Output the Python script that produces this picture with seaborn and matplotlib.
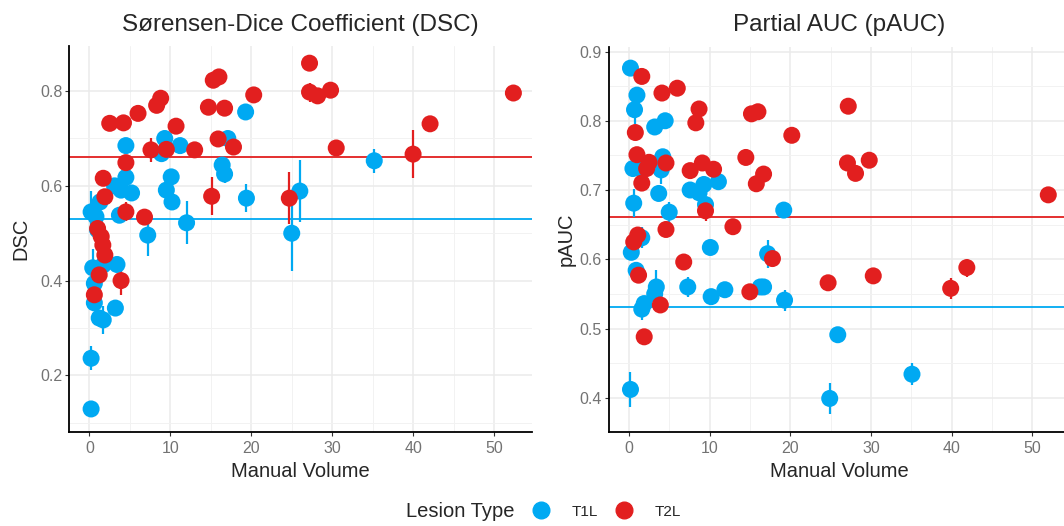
import matplotlib
matplotlib.use('Agg')
import matplotlib.pyplot as plt
from matplotlib.lines import Line2D
from matplotlib.ticker import MultipleLocator
import seaborn as sns
import pandas as pd

# -------------------------------
# DATA
# -------------------------------

lesion_types = ['T1L', 'T2L']
palette = {'T1L': '#00A9F2', 'T2L': '#E21F1F'}

# DSC panel
dsc_t1_vol = [0.2, 0.8, 1.3, 1.0, 0.4, 1.7, 3.4, 0.6, 0.6, 1.2, 1.7, 3.2, 0.2, 0.2,
              3.1, 3.9, 4.5, 5.2, 3.7, 4.5, 7.2, 8.9, 9.3, 10.1, 9.5, 10.2, 11.2,
              12.0, 16.4, 16.7, 17.1, 19.3, 19.4, 25.0, 26.0, 35.2]
dsc_t1_val = [0.545, 0.535, 0.566, 0.507, 0.427, 0.433, 0.434, 0.394, 0.353, 0.321,
              0.317, 0.342, 0.236, 0.129, 0.600, 0.591, 0.618, 0.585, 0.538, 0.685,
              0.496, 0.668, 0.700, 0.619, 0.591, 0.566, 0.685, 0.522, 0.644, 0.625,
              0.700, 0.756, 0.574, 0.500, 0.589, 0.653]
dsc_t1_err = [0.045, 0.02, 0.02, 0.02, 0.04, 0.02, 0.015, 0.02, 0.015, 0.015,
              0.03, 0.015, 0.025, 0.005, 0.01, 0.01, 0.01, 0.01, 0.015, 0.005,
              0.045, 0.01, 0.01, 0.01, 0.01, 0.015, 0.01, 0.045, 0.01, 0.02,
              0.01, 0.005, 0.03, 0.08, 0.065, 0.025]

dsc_t2_vol = [0.6, 1.2, 3.9, 1.45, 1.65, 1.9, 1.0, 1.9, 1.7, 4.5, 6.8, 4.5, 2.5, 4.2,
              6.0, 8.3, 8.8, 10.7, 7.6, 9.5, 13.0, 14.7, 15.3, 16.0, 16.7, 15.9,
              17.8, 20.3, 15.1, 24.7, 27.2, 27.2, 28.2, 29.8, 30.5, 40.0, 42.1, 52.4]
dsc_t2_val = [0.370, 0.412, 0.400, 0.493, 0.475, 0.454, 0.510, 0.577, 0.616, 0.545,
              0.534, 0.649, 0.732, 0.733, 0.753, 0.770, 0.785, 0.726, 0.676, 0.677,
              0.676, 0.766, 0.823, 0.830, 0.764, 0.699, 0.682, 0.792, 0.578, 0.574,
              0.859, 0.798, 0.790, 0.802, 0.680, 0.667, 0.731, 0.796]
dsc_t2_err = [0.01, 0.05, 0.03, 0.02, 0.02, 0.02, 0.02, 0.01, 0.01, 0.02,
              0.01, 0.015, 0.005, 0.005, 0.005, 0.01, 0.01, 0.005, 0.025, 0.01,
              0.005, 0.005, 0.005, 0.005, 0.005, 0.015, 0.005, 0.005, 0.04, 0.055,
              0.005, 0.02, 0.005, 0.005, 0.015, 0.05, 0.005, 0.01]

# pAUC panel
pauc_t1_vol = [0.2, 1.0, 0.7, 3.2, 4.5, 0.5, 1.4, 4.2, 4.0, 3.7, 0.6, 5.0, 7.6, 8.7,
               9.3, 11.1, 9.5, 10.1, 1.6, 19.2, 0.3, 0.9, 1.6, 1.9, 3.4, 3.2, 7.3,
               10.2, 11.9, 16.3, 16.7, 17.2, 19.3, 0.2, 25.9, 24.9, 35.1]
pauc_t1_val = [0.876, 0.837, 0.816, 0.791, 0.800, 0.731, 0.731, 0.748, 0.729, 0.695,
               0.681, 0.668, 0.700, 0.696, 0.708, 0.712, 0.679, 0.617, 0.631, 0.671,
               0.610, 0.584, 0.528, 0.536, 0.560, 0.550, 0.560, 0.546, 0.556, 0.560,
               0.560, 0.608, 0.541, 0.412, 0.491, 0.399, 0.434]
pauc_t1_err = [0.005, 0.005, 0.02, 0.005, 0.005, 0.005, 0.005, 0.01, 0.02, 0.005,
               0.02, 0.015, 0.005, 0.005, 0.005, 0.005, 0.01, 0.005, 0.015, 0.005,
               0.01, 0.005, 0.015, 0.01, 0.025, 0.01, 0.015, 0.005, 0.005, 0.005,
               0.005, 0.02, 0.015, 0.025, 0.005, 0.022, 0.016]

pauc_t2_vol = [1.6, 4.1, 6.0, 8.7, 8.3, 0.8, 1.0, 2.5, 2.2, 4.6, 1.6, 7.6, 9.1, 10.5,
               9.5, 4.6, 12.9, 0.6, 1.1, 6.8, 1.2, 1.9, 3.9, 15.0, 17.8, 14.5, 15.2,
               16.0, 15.8, 16.7, 20.2, 27.2, 27.1, 28.1, 29.8, 52.0, 24.7, 30.3,
               39.9, 41.9]
pauc_t2_val = [0.864, 0.840, 0.847, 0.817, 0.797, 0.783, 0.751, 0.740, 0.731, 0.739,
               0.710, 0.728, 0.739, 0.730, 0.670, 0.643, 0.647, 0.625, 0.635, 0.596,
               0.577, 0.488, 0.534, 0.553, 0.601, 0.747, 0.810, 0.813, 0.709, 0.723,
               0.779, 0.821, 0.739, 0.724, 0.743, 0.693, 0.566, 0.576, 0.558, 0.588]
pauc_t2_err = [0.005, 0.005, 0.005, 0.005, 0.005, 0.005, 0.005, 0.005, 0.005, 0.005,
               0.005, 0.005, 0.005, 0.005, 0.015, 0.005, 0.005, 0.005, 0.005, 0.005,
               0.005, 0.005, 0.005, 0.005, 0.005, 0.005, 0.005, 0.005, 0.01, 0.01,
               0.005, 0.005, 0.01, 0.005, 0.01, 0.005, 0.005, 0.005, 0.015, 0.013]

# reference lines (per lesion type)
dsc_hlines = {'T1L': 0.530, 'T2L': 0.660}
pauc_hlines = {'T1L': 0.531, 'T2L': 0.661}


def make_frame(t1_vol, t1_val, t1_err, t2_vol, t2_val, t2_err):
    t1 = pd.DataFrame({'volume': t1_vol, 'value': t1_val, 'err': t1_err, 'lesion': 'T1L'})
    t2 = pd.DataFrame({'volume': t2_vol, 'value': t2_val, 'err': t2_err, 'lesion': 'T2L'})
    return pd.concat([t1, t2], ignore_index=True)


dsc_df = make_frame(dsc_t1_vol, dsc_t1_val, dsc_t1_err, dsc_t2_vol, dsc_t2_val, dsc_t2_err)
pauc_df = make_frame(pauc_t1_vol, pauc_t1_val, pauc_t1_err, pauc_t2_vol, pauc_t2_val, pauc_t2_err)

# -------------------------------
# STYLE
# -------------------------------

sns.set_theme(style='white')
plt.rcParams['font.family'] = ['Liberation Sans', 'DejaVu Sans']

fig = plt.figure(figsize=(10.64, 5.26), dpi=100)
ax1 = fig.add_axes([0.0651, 0.1793, 0.4349, 0.7330])
ax2 = fig.add_axes([0.5721, 0.1793, 0.4336, 0.7320])


def draw_panel(ax, df, hlines, title, ylabel, ylim, ymajor, ylabelpad):
    for lt in lesion_types:
        ax.axhline(hlines[lt], color=palette[lt], lw=1.3, zorder=2)
    for lt in lesion_types:
        sub = df[df['lesion'] == lt]
        ax.errorbar(sub['volume'], sub['value'], yerr=sub['err'], fmt='none',
                    ecolor=palette[lt], elinewidth=1.6, capsize=0, zorder=3)
    sns.scatterplot(data=df, x='volume', y='value', hue='lesion', palette=palette,
                    s=150, edgecolor='none', linewidth=0, legend=False,
                    ax=ax, zorder=4)

    ax.set_xlim(-2.5, 54.7)
    ax.set_ylim(*ylim)
    ax.xaxis.set_major_locator(MultipleLocator(10))
    ax.xaxis.set_minor_locator(MultipleLocator(5))
    ax.yaxis.set_major_locator(MultipleLocator(ymajor))
    ax.yaxis.set_minor_locator(MultipleLocator(ymajor / 2))
    ax.grid(which='major', color='#EBEBEB', lw=1.1, zorder=0)
    ax.grid(which='minor', color='#F2F2F2', lw=0.7, zorder=0)
    ax.set_axisbelow(True)

    for side in ['top', 'right']:
        ax.spines[side].set_visible(False)
    for side in ['left', 'bottom']:
        ax.spines[side].set_color('black')
        ax.spines[side].set_linewidth(1.3)

    ax.tick_params(which='major', length=3, width=0.8, color='#333333',
                   labelsize=11.5, labelcolor='#737373', pad=2,
                   left=True, bottom=True)
    ax.tick_params(axis='x', which='major', pad=4)
    ax.tick_params(which='minor', length=0)

    ax.set_title(title, fontsize=17.5, pad=11)
    ax.set_xlabel('Manual Volume', fontsize=14.5, labelpad=4)
    ax.set_ylabel(ylabel, fontsize=14.5, labelpad=ylabelpad)


draw_panel(ax1, dsc_df, dsc_hlines, 'Sørensen-Dice Coefficient (DSC)', 'DSC',
           (0.081, 0.895), 0.2, 7)
draw_panel(ax2, pauc_df, pauc_hlines, 'Partial AUC (pAUC)', 'pAUC',
           (0.351, 0.907), 0.1, 3)
ax2.set_yticks([0.4, 0.5, 0.6, 0.7, 0.8, 0.9])
ax2.set_ylim(0.351, 0.907)

# -------------------------------
# LEGEND
# -------------------------------

fig.text(0.382, 0.027, 'Lesion Type', fontsize=14.5, ha='left', va='center')
handles = [Line2D([0], [0], marker='o', color=palette[lt], linestyle='none',
                  markersize=12) for lt in lesion_types]
fig.legend(handles, lesion_types, loc='center left', bbox_to_anchor=(0.494, 0.027),
           ncol=2, frameon=False, fontsize=11, handlelength=1.0,
           handletextpad=1.5, columnspacing=1.2, borderpad=0)

fig.savefig('out.png', dpi=100)
